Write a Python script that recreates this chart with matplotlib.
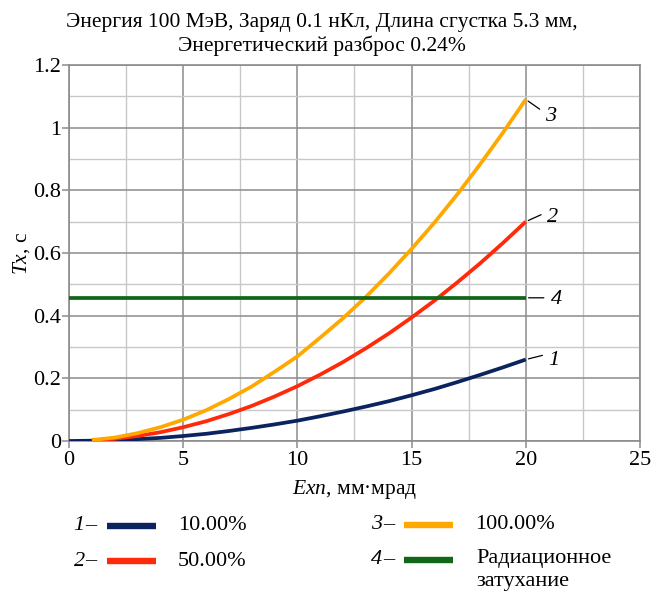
import matplotlib
matplotlib.use('Agg')
import matplotlib.pyplot as plt
from matplotlib.lines import Line2D
from matplotlib.ticker import MultipleLocator, FuncFormatter

plt.rcParams['font.family'] = ['Liberation Serif', 'DejaVu Serif']
plt.rcParams['mathtext.fontset'] = 'custom'
plt.rcParams['mathtext.rm'] = 'Liberation Serif'
plt.rcParams['mathtext.it'] = 'Liberation Serif:italic'

# Данные
exn_full = list(range(0, 21))
exn_from1 = list(range(1, 21))
tx_10 = [0, 0.001, 0.003, 0.006, 0.010, 0.016, 0.023, 0.032, 0.042, 0.053, 0.065,
         0.079, 0.094, 0.110, 0.127, 0.146, 0.166, 0.188, 0.211, 0.235, 0.26]
tx_50 = [0.002, 0.007, 0.016, 0.028, 0.044, 0.063, 0.086, 0.112, 0.142, 0.175,
         0.212, 0.252, 0.296, 0.343, 0.394, 0.448, 0.506, 0.567, 0.632, 0.70]
tx_100 = [0.003, 0.011, 0.025, 0.044, 0.068, 0.098, 0.134, 0.174, 0.221, 0.27,
          0.33, 0.392, 0.46, 0.534, 0.613, 0.697, 0.787, 0.883, 0.984, 1.09]
rad_x = [0, 20]
rad_y = [0.457, 0.457]

labels = ['10.00%', '50.00%', '100.00%', 'Радиационное\nзатухание']
numbers = ['1', '2', '3', '4']
colors = ['#0b2460', '#ff2a0a', '#ffa800', '#12661a']

title = 'Энергия 100 МэВ, Заряд 0.1 нКл, Длина сгустка 5.3 мм,\nЭнергетический разброс 0.24%'

fig = plt.figure(figsize=(6.58, 5.95), dpi=100)
ax = fig.add_axes([0.1049, 0.2588, 0.8677, 0.632])

series = [(exn_full, tx_10), (exn_from1, tx_50), (exn_from1, tx_100), (rad_x, rad_y)]
for (xs, ys), c in zip(series, colors):
    ax.plot(xs, ys, color=c, lw=2.7, solid_capstyle='butt', zorder=3)

ax.set_xlim(0, 25)
ax.set_ylim(0, 1.2)
ax.xaxis.set_major_locator(MultipleLocator(5))
ax.xaxis.set_minor_locator(MultipleLocator(2.5))
ax.yaxis.set_major_locator(MultipleLocator(0.2))
ax.yaxis.set_minor_locator(MultipleLocator(0.1))
ax.xaxis.set_major_formatter(FuncFormatter(lambda v, p: f'{v:g}'))
ax.yaxis.set_major_formatter(FuncFormatter(lambda v, p: f'{v:g}'))
ax.grid(which='major', color='#8c8c8c', lw=1.1)
ax.grid(which='minor', color='#c8c8c8', lw=1.0)
ax.set_axisbelow(True)
for s in ax.spines.values():
    s.set_color('#8c8c8c')
    s.set_linewidth(1.2)
ax.tick_params(which='major', length=5, width=1.1, color='#8c8c8c', labelsize=16)
ax.tick_params(axis='y', pad=0.5)
ax.tick_params(axis='x', pad=2)
ax.tick_params(which='minor', length=0)

ax.set_xlabel(r'$\mathit{Exn}$, мм·мрад', fontsize=15.5, labelpad=6)
ax.set_ylabel(r'$\mathit{Tx}$, с', fontsize=15.5, labelpad=1)
fig.text(0.489, 0.978, title, fontsize=15.5, linespacing=1.2, ha='center', va='top')

# Подписи кривых с выносками
ends = [(exn_full[-1], tx_10[-1]), (exn_from1[-1], tx_50[-1]),
        (exn_from1[-1], tx_100[-1]), (rad_x[-1], rad_y[-1])]
leaders = [((12, 3), (16, -1)), ((11, 5), (15, 3)), ((10, -7), (14, -12)), ((13, 0), (18, -1))]
for num, (x, y), (lead, txt) in zip(numbers, ends, leaders):
    ax.annotate('', xy=(x, y), xytext=lead, textcoords='offset points',
                arrowprops=dict(arrowstyle='-', lw=0.9, color='black', shrinkA=0, shrinkB=2))
    ax.annotate(num, xy=(x, y), xytext=txt, textcoords='offset points',
                fontsize=16, style='italic', ha='left', va='center', annotation_clip=False)

# Легенда
row_y = [0.116, 0.057, 0.118, 0.059]
for i, (num, lab, c) in enumerate(zip(numbers, labels, colors)):
    x0 = 0.112 if i < 2 else 0.564
    y0 = row_y[i]
    fig.text(x0, y0, num, fontsize=16, style='italic', ha='left', va='center')
    fig.text(x0 + 0.018, y0, '–', fontsize=16, ha='left', va='center')
    fig.add_artist(Line2D([x0 + 0.050, x0 + 0.125], [y0, y0], color=c, lw=4.6,
                          solid_capstyle='butt', transform=fig.transFigure))
    if '\n' in lab:
        fig.text(x0 + 0.160, y0 + 0.019, lab, fontsize=16, ha='left', va='top',
                 linespacing=1.35)
    else:
        fig.text(x0 + 0.158, y0, lab, fontsize=16, ha='left', va='center')

fig.savefig('out.png', dpi=100)
